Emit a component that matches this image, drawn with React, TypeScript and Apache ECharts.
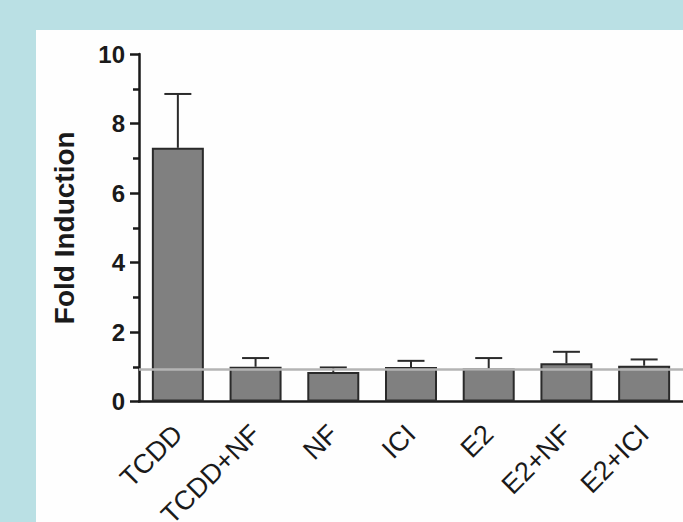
import React, { useEffect, useRef } from "react";
import * as echarts from "echarts";

const categories = ["TCDD", "TCDD+NF", "NF", "ICI", "E2", "E2+NF", "E2+ICI"];
const means = [7.3, 1.0, 0.85, 0.99, 0.95, 1.1, 1.03];
const errors = [1.55, 0.25, 0.13, 0.18, 0.3, 0.33, 0.18];
const baseline = 0.92;
const yMin = 0;
const yMax = 10;
const yInterval = 2;

const FONT = '"Liberation Sans", Arial, Helvetica, sans-serif';

export default function App() {
  const ref = useRef<HTMLDivElement>(null);
  useEffect(() => {
    if (!ref.current) return;
    const chart = echarts.init(ref.current, null, { renderer: "svg" });
    const errData = categories.map((c, i) => [i, means[i], means[i] + errors[i]]);
    chart.setOption({
      animation: false,
      backgroundColor: "#bae0e4",
      graphic: [
        {
          type: "rect",
          z: -10,
          shape: { x: 36, y: 30, width: 700, height: 600 },
          style: { fill: "#fefefe" },
        },
      ],
      grid: {
        left: 139,
        right: 0,
        top: 54,
        bottom: 120.5,
        containLabel: false,
        outerBoundsMode: "none",
      },
      xAxis: {
        type: "category",
        data: categories,
        axisLine: { lineStyle: { color: "#1a1a1a", width: 2.5 } },
        axisTick: { alignWithLabel: true, length: 10, lineStyle: { color: "#1a1a1a", width: 2.5 } },
        axisLabel: {
          rotate: 45,
          margin: 28,
          fontSize: 27,
          fontFamily: FONT,
          color: "#1a1a1a",
          interval: 0,
          hideOverlap: false,
        },
      },
      yAxis: {
        type: "value",
        min: yMin,
        max: yMax,
        interval: yInterval,
        name: "Fold Induction",
        nameLocation: "middle",
        nameGap: 61,
        nameTextStyle: { fontSize: 28, fontWeight: "bold", fontFamily: FONT, color: "#1a1a1a" },
        splitLine: { show: false },
        axisLine: { show: true, lineStyle: { color: "#1a1a1a", width: 2.5 } },
        axisTick: { show: true, length: 9, lineStyle: { color: "#1a1a1a", width: 2.5 } },
        minorTick: { show: true, splitNumber: 2, length: 6, lineStyle: { color: "#1a1a1a", width: 2.5 } },
        axisLabel: { margin: 14, fontSize: 24, fontWeight: "bold", fontFamily: FONT, color: "#1a1a1a" },
      },
      series: [
        {
          type: "bar",
          data: means,
          barWidth: 52,
          itemStyle: { color: "#808080", borderColor: "#2a2a2a", borderWidth: 2 },
          markLine: {
            silent: true,
            symbol: "none",
            label: { show: false },
            lineStyle: { color: "#b4b4b4", width: 2.5, type: "solid" },
            data: [{ yAxis: baseline }],
          },
        },
        {
          type: "custom",
          data: errData,
          z: 3,
          renderItem: (params: any, api: any) => {
            const x = api.value(0);
            const top = api.coord([x, api.value(2)]);
            const bot = api.coord([x, api.value(1)]);
            const hw = 13.5;
            const style = { stroke: "#2a2a2a", lineWidth: 2 };
            return {
              type: "group",
              children: [
                { type: "line", shape: { x1: top[0], y1: top[1], x2: bot[0], y2: bot[1] }, style },
                { type: "line", shape: { x1: top[0] - hw, y1: top[1], x2: top[0] + hw, y2: top[1] }, style },
              ],
            };
          },
        },
      ],
    });
    return () => chart.dispose();
  }, []);
  return (
    <div
      ref={ref}
      style={{ position: "absolute", left: 0, top: 0, width: 683, height: 522 }}
    />
  );
}
